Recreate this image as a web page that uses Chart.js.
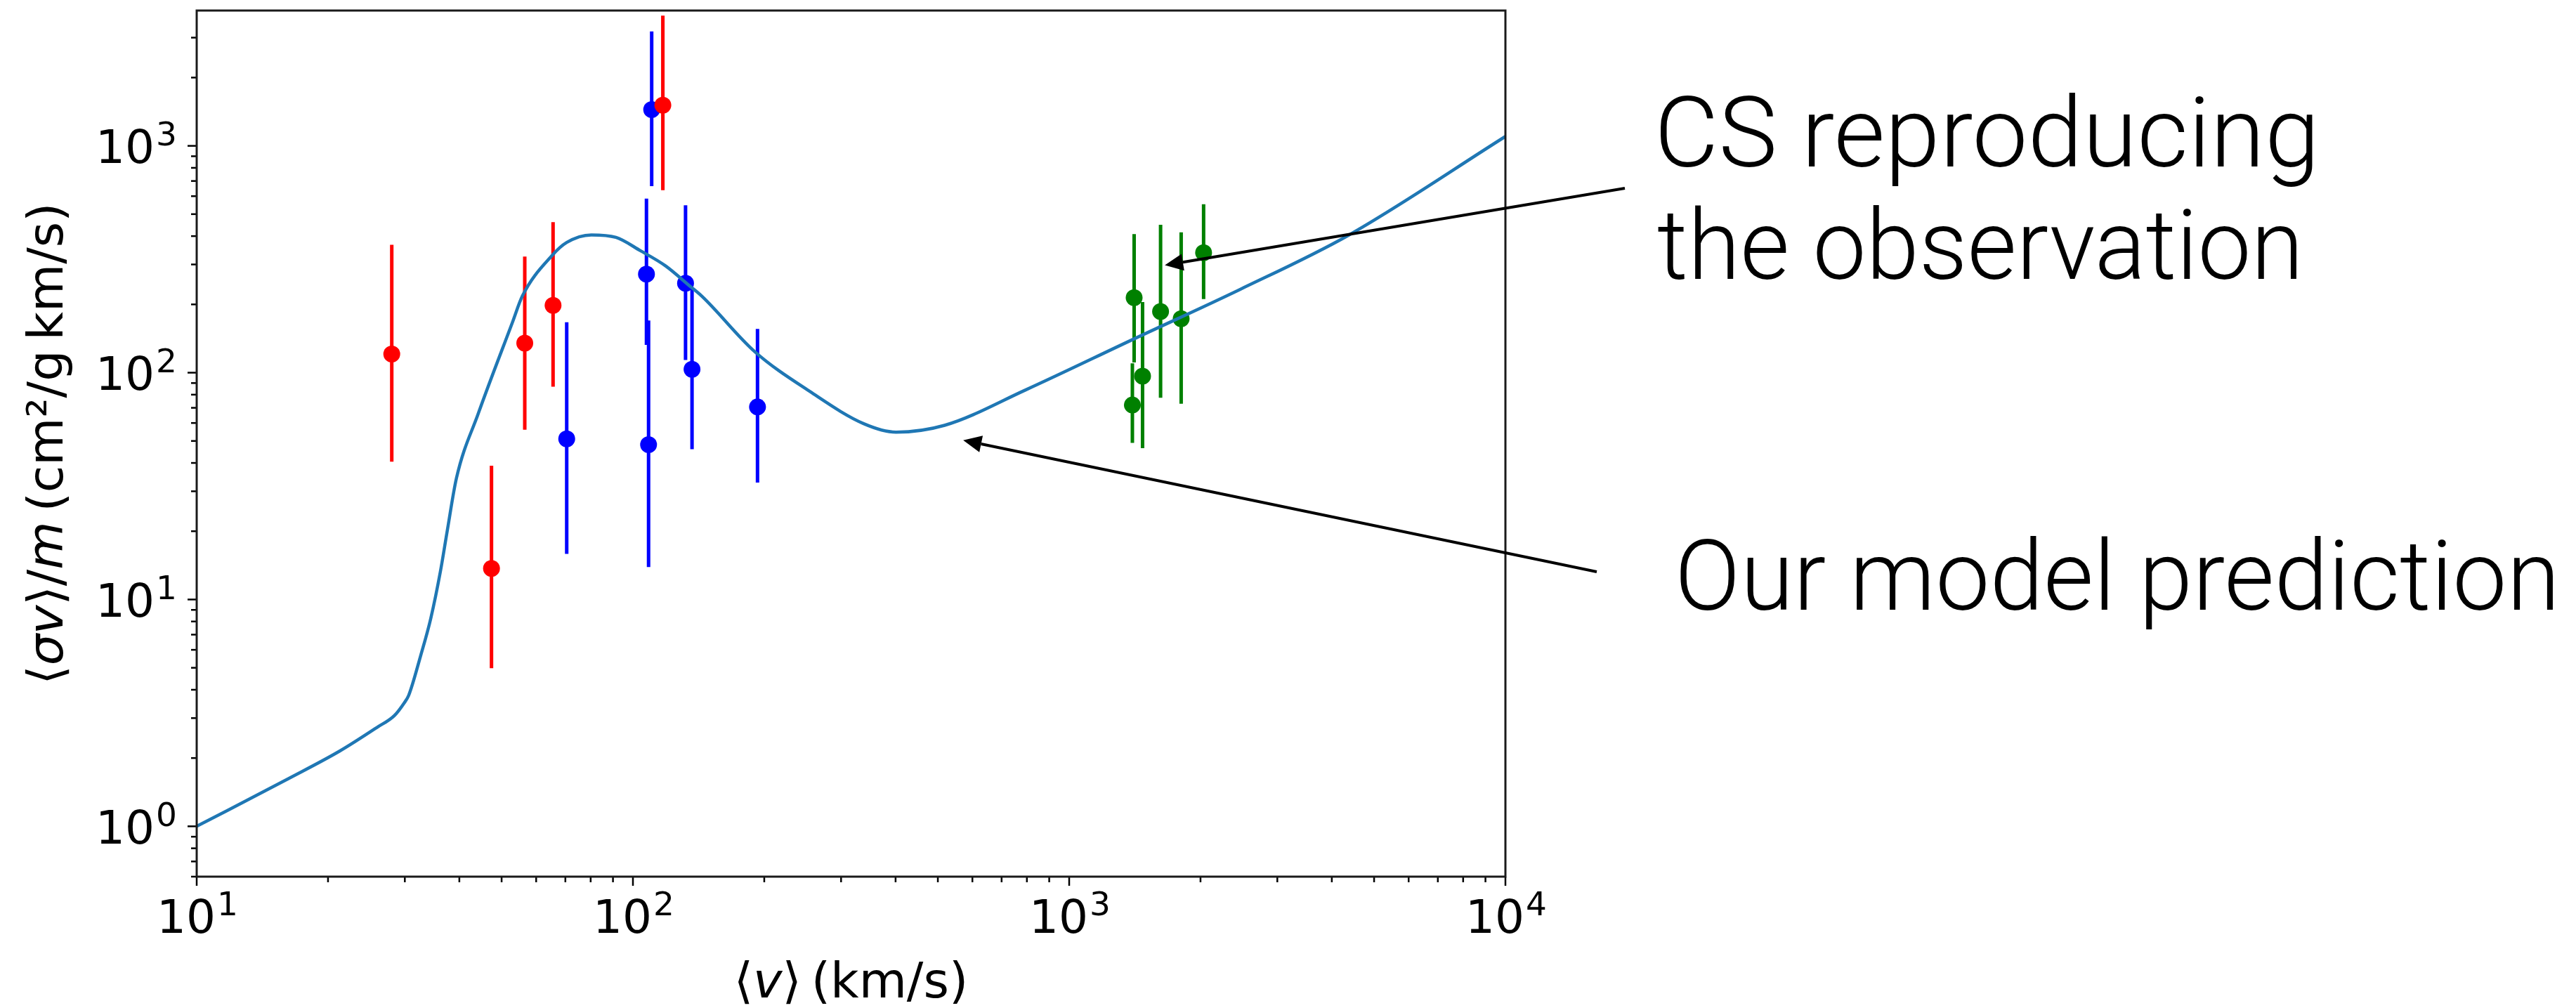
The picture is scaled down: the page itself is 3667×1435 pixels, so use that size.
<!DOCTYPE html>
<html>
<head>
<meta charset="utf-8">
<title>Sección eficaz vs velocidad</title>
<script src="https://cdn.jsdelivr.net/npm/chart.js@4.4.1/dist/chart.umd.min.js"></script>
<style>
  html, body { margin: 0; padding: 0; background: #fff; }
  canvas { display: block; }
</style>
</head>
<body>
<canvas id="grafico" width="3667" height="1435"></canvas>
<script>
// Curva del modelo (velocidad en km/s, sigma/m en cm^2/g km/s)
const velModelo = [10, 16.2, 21.3, 25.9, 28.4, 29.9, 30.6, 32.6, 34.4, 36.2, 37.5, 39.4, 44.2, 52.9, 55.8, 65.2, 70.5, 80.3, 91.4, 104, 118.7, 135, 144, 190, 255, 338, 401, 518, 793, 1398, 2466, 4353, 10000];
const sigmaModelo = [1.0, 1.62, 2.15, 2.73, 3.08, 3.5, 3.77, 5.64, 8.25, 13.3, 19.9, 34.3, 66, 166, 218, 328, 375, 405, 395, 345, 296, 241, 217, 124, 82.4, 59.6, 54.7, 58.6, 83.8, 140, 233, 402, 1100];

// Observaciones en rojo
const velRojo = [28.0, 47.4, 56.5, 65.6, 117.1];
const sigmaRojo = [120.8, 13.7, 135, 198, 1511];
const bajoRojo = [40.5, 4.98, 56, 86.7, 638];
const altoRojo = [366, 38.9, 325, 461, 3750];

// Observaciones en azul
const velAzul = [70.5, 107.4, 108.6, 110.4, 132, 136.6, 193];
const sigmaAzul = [51.1, 272, 48.2, 1445, 248, 103.5, 70.6];
const bajoAzul = [15.9, 132.7, 13.9, 664, 113.8, 46, 32.8];
const altoAzul = [167, 585, 170, 3197, 547, 233, 156];

// Observaciones en verde (cúmulos)
const velVerde = [1396, 1409, 1473, 1620, 1806, 2033];
const sigmaVerde = [72, 214, 96.5, 186, 173, 338];
const bajoVerde = [49, 111, 46.5, 77.5, 73, 211];
const altoVerde = [110, 408, 205, 449, 416, 553];

// Marcas de los ejes
const ticksX = [10, 20, 30, 40, 50, 60, 70, 80, 90, 100, 200, 300, 400, 500, 600, 700, 800, 900,
                1000, 2000, 3000, 4000, 5000, 6000, 7000, 8000, 9000, 10000];
const ticksY = [0.6, 0.7, 0.8, 0.9, 1, 2, 3, 4, 5, 6, 7, 8, 9, 10, 20, 30, 40, 50, 60, 70, 80, 90,
                100, 200, 300, 400, 500, 600, 700, 800, 900, 1000, 2000, 3000];

// Hacia dónde apuntan las flechas (en unidades de datos)
const punteroCS = { x: 1657, y: 297.6 };
const punteroModelo = { x: 571.6, y: 50.4 };

function esPotencia(v) {
    const e = Math.log10(v);
    return Math.abs(e - Math.round(e)) < 1e-9;
}

function puntos(vel, sigma) {
    return vel.map((v, i) => ({ x: v, y: sigma[i] }));
}

// Barras de error como segmentos separados por huecos
function barrasError(vel, bajo, alto) {
    const lista = [];
    vel.forEach((v, i) => {
        lista.push({ x: v, y: bajo[i] }, { x: v, y: alto[i] }, { x: v, y: null });
    });
    return lista;
}

function marcadores(vel, sigma, color) {
    return {
        type: 'scatter',
        data: puntos(vel, sigma),
        pointRadius: 12,
        pointBackgroundColor: color,
        pointBorderWidth: 0
    };
}

function barras(vel, bajo, alto, color) {
    return {
        type: 'line',
        data: barrasError(vel, bajo, alto),
        borderColor: color,
        borderWidth: 5,
        pointRadius: 0,
        spanGaps: false,
        fill: false
    };
}

// Etiqueta "10^n" con el exponente más pequeño y elevado
function potencia(ctx, exp, x, base, alinear) {
    ctx.font = '66px "DejaVu Sans"';
    const w10 = ctx.measureText('10').width;
    ctx.font = '47px "DejaVu Sans"';
    const wExp = ctx.measureText(String(exp)).width;
    const total = w10 + wExp + 2;
    const x0 = alinear === 'centro' ? x - total / 2 : x - total;
    ctx.font = '66px "DejaVu Sans"';
    ctx.fillText('10', x0, base);
    ctx.font = '47px "DejaVu Sans"';
    ctx.fillText(String(exp), x0 + w10 + 2, base - 25);
}

// Texto con partes en cursiva (tipo mathtext), centrado y ajustado a un largo
function textoMixto(ctx, partes, size, x, y, largo) {
    const fuente = it => (it ? 'oblique ' : '') + size + 'px "DejaVu Sans"';
    let total = 0;
    partes.forEach(p => { ctx.font = fuente(p[1]); total += ctx.measureText(p[0]).width; });
    const sx = Math.min(1, largo / total);
    ctx.save();
    ctx.translate(x, y);
    ctx.scale(sx, 1);
    let cx = -total / 2;
    partes.forEach(p => {
        ctx.font = fuente(p[1]);
        ctx.fillText(p[0], cx, 0);
        cx += ctx.measureText(p[0]).width;
    });
    ctx.restore();
}

// Texto ajustado a un ancho dado (tinta)
function textoAjustado(ctx, str, xTinta, base, ancho) {
    ctx.font = '300 139px Roboto';
    const m = ctx.measureText(str);
    const tinta = m.actualBoundingBoxRight + m.actualBoundingBoxLeft;
    const sx = ancho / tinta;
    ctx.save();
    ctx.translate(xTinta + m.actualBoundingBoxLeft * sx, base);
    ctx.scale(sx, 1);
    ctx.fillText(str, 0, 0);
    ctx.restore();
}

function flecha(ctx, x0, y0, x1, y1) {
    const ang = Math.atan2(y1 - y0, x1 - x0);
    const largo = 26, medio = 12;
    const bx = x1 - largo * Math.cos(ang), by = y1 - largo * Math.sin(ang);
    ctx.beginPath();
    ctx.moveTo(x0, y0);
    ctx.lineTo(bx, by);
    ctx.stroke();
    ctx.beginPath();
    ctx.moveTo(x1, y1);
    ctx.lineTo(bx + medio * Math.sin(ang), by - medio * Math.cos(ang));
    ctx.lineTo(bx - medio * Math.sin(ang), by + medio * Math.cos(ang));
    ctx.closePath();
    ctx.fill();
}

const marcoYAnotaciones = {
    id: 'marcoYAnotaciones',
    afterDraw(chart) {
        const { ctx, chartArea: a } = chart;
        const x = chart.scales.x, y = chart.scales.y;
        ctx.save();
        ctx.strokeStyle = '#000';
        ctx.fillStyle = '#000';
        ctx.textBaseline = 'alphabetic';
        ctx.textAlign = 'left';

        // marcas de los ejes y sus etiquetas
        ctx.lineWidth = 2.5;
        ticksX.forEach(v => {
            const px = x.getPixelForValue(v);
            const l = esPotencia(v) ? 13 : 8;
            ctx.beginPath(); ctx.moveTo(px, a.bottom); ctx.lineTo(px, a.bottom + l); ctx.stroke();
            if (esPotencia(v)) potencia(ctx, Math.round(Math.log10(v)), px + 1, a.bottom + 80, 'centro');
        });
        ticksY.forEach(v => {
            const py = y.getPixelForValue(v);
            const l = esPotencia(v) ? 13 : 8;
            ctx.beginPath(); ctx.moveTo(a.left, py); ctx.lineTo(a.left - l, py); ctx.stroke();
            if (esPotencia(v)) potencia(ctx, Math.round(Math.log10(v)), a.left - 28, py + 24.5, 'derecha');
        });

        // marco
        ctx.lineWidth = 3;
        ctx.strokeStyle = '#1a1a1a';
        ctx.strokeRect(a.left, a.top, a.right - a.left, a.bottom - a.top);

        // títulos de los ejes
        textoMixto(ctx, [['⟨', false], ['v', true], ['⟩\u2009(km/s)', false]], 70, (a.left + a.right) / 2, 1420, 341);
        ctx.save();
        ctx.translate(89, (a.top + a.bottom) / 2);
        ctx.rotate(-Math.PI / 2);
        textoMixto(ctx, [['⟨', false], ['σv', true], ['⟩/', false], ['m', true], ['\u2009(cm²/g\u2009km/s)', false]], 70, 0, 0, 713);
        ctx.restore();

        // anotaciones
        textoAjustado(ctx, 'CS reproducing', 2363, 237, 929);
        textoAjustado(ctx, 'the observation', 2360, 397, 910);
        textoAjustado(ctx, 'Our model prediction', 2392, 868, 1243);

        ctx.lineWidth = 4;
        ctx.strokeStyle = '#000';
        ctx.fillStyle = '#000';
        flecha(ctx, 2313, 268, x.getPixelForValue(punteroCS.x), y.getPixelForValue(punteroCS.y));
        flecha(ctx, 2273, 814, x.getPixelForValue(punteroModelo.x), y.getPixelForValue(punteroModelo.y));
        ctx.restore();
    }
};

const ctx = document.getElementById('grafico').getContext('2d');
new Chart(ctx, {
    type: 'line',
    data: {
        datasets: [
            {
                type: 'line',
                data: puntos(velModelo, sigmaModelo),
                borderColor: '#1f77b4',
                borderWidth: 4.5,
                pointRadius: 0,
                cubicInterpolationMode: 'monotone',
                fill: false
            },
            marcadores(velRojo, sigmaRojo, '#ff0000'),
            marcadores(velAzul, sigmaAzul, '#0000ff'),
            marcadores(velVerde, sigmaVerde, '#008000'),
            barras(velRojo, bajoRojo, altoRojo, '#ff0000'),
            barras(velAzul, bajoAzul, altoAzul, '#0000ff'),
            barras(velVerde, bajoVerde, altoVerde, '#008000')
        ]
    },
    options: {
        responsive: false,
        animation: false,
        devicePixelRatio: 1,
        layout: { padding: { left: 0, right: 1524, top: 15, bottom: 0 } },
        plugins: {
            legend: { display: false },
            tooltip: { enabled: false }
        },
        scales: {
            x: {
                type: 'logarithmic',
                position: 'bottom',
                min: 10,
                max: 10000,
                grid: { display: false, drawTicks: false },
                border: { display: false },
                afterBuildTicks: s => { s.ticks = ticksX.map(v => ({ value: v })); },
                afterFit: s => { s.height = 187; s.paddingLeft = 0; s.paddingRight = 0; },
                ticks: { display: false, autoSkip: false }
            },
            y: {
                type: 'logarithmic',
                min: 0.6,
                max: 3950,
                grid: { display: false, drawTicks: false },
                border: { display: false },
                afterBuildTicks: s => { s.ticks = ticksY.map(v => ({ value: v })); },
                afterFit: s => { s.width = 280; s.paddingTop = 0; s.paddingBottom = 0; },
                ticks: { display: false, autoSkip: false }
            }
        }
    },
    plugins: [marcoYAnotaciones]
});
</script>
</body>
</html>
